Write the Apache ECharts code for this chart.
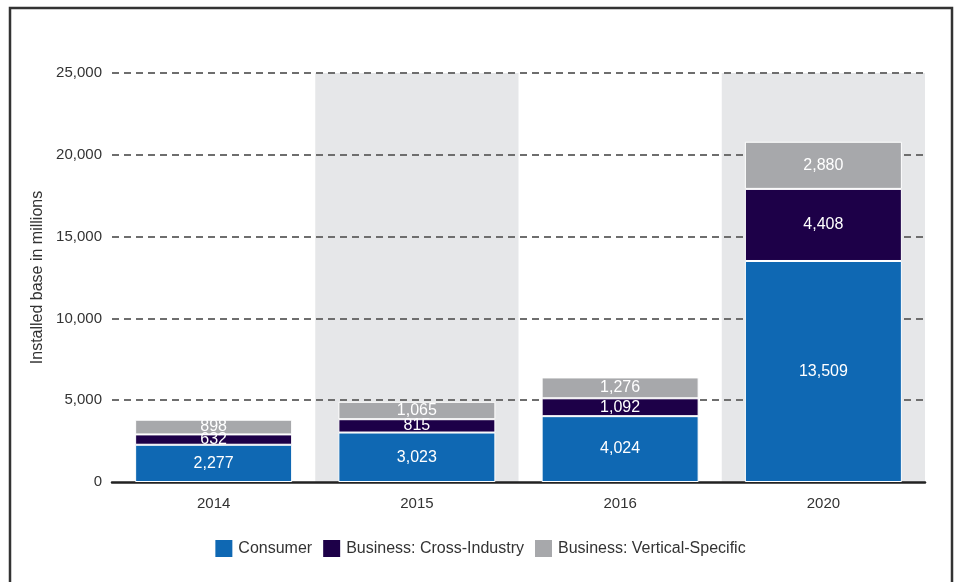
<!DOCTYPE html>
<html>
<head>
<meta charset="utf-8">
<script src="https://cdn.jsdelivr.net/npm/echarts@6/dist/echarts.min.js"></script>
<style>
html,body{margin:0;padding:0;background:#fff;}
#chart{width:959px;height:582px;}
</style>
</head>
<body>
<div id="chart"></div>
<script>
const categories = ['2014', '2015', '2016', '2020'];
const consumer = [2277, 3023, 4024, 13509];
const crossIndustry = [632, 815, 1092, 4408];
const verticalSpecific = [898, 1065, 1276, 2880];
const seriesNames = ['Consumer', 'Business: Cross-Industry', 'Business: Vertical-Specific'];
const colors = ['#0f68b3', '#1d0048', '#a7a8ab'];

const chart = echarts.init(document.getElementById('chart'));
const font = 'Liberation Sans, Arial, Helvetica, sans-serif';

function mk(name, data, color) {
  return {
    name: name,
    type: 'bar',
    stack: 'total',
    data: data,
    barWidth: 157,
    itemStyle: { color: color, borderColor: '#ffffff', borderWidth: 1 },
    label: {
      show: true,
      position: 'inside',
      color: '#ffffff',
      fontSize: 16,
      fontFamily: font,
      formatter: p => p.value.toLocaleString('en-US')
    }
  };
}

chart.setOption({
  animation: false,
  color: colors,
  graphic: [{
    type: 'rect',
    shape: { x: 10, y: 8, width: 942, height: 620 },
    style: { fill: 'none', stroke: '#333333', lineWidth: 2.5 },
    z: 100,
    silent: true
  }],
  grid: { left: 112, right: 34, top: 73, bottom: 100, containLabel: false },
  legend: {
    top: 533,
    left: 'center',
    itemWidth: 19,
    itemHeight: 19,
    itemGap: 9,
    icon: 'rect',
    textStyle: { fontSize: 16, fontFamily: font, color: '#333333' },
    data: seriesNames
  },
  xAxis: {
    type: 'category',
    data: categories,
    axisTick: { show: false },
    axisLine: { show: true, lineStyle: { color: '#222222', width: 2.5 } },
    axisLabel: { fontSize: 15, fontFamily: font, color: '#333333', margin: 14 },
    splitArea: { show: true, areaStyle: { color: ['rgba(0,0,0,0)', '#e6e7e9'] } },
    z: 0
  },
  yAxis: {
    type: 'value',
    min: 0,
    max: 25000,
    interval: 5000,
    name: 'Installed base in millions',
    nameLocation: 'middle',
    nameRotate: 90,
    nameGap: 62,
    nameTextStyle: { fontSize: 16, fontFamily: font, color: '#333333' },
    axisLine: { show: false },
    axisTick: { show: false },
    axisLabel: {
      fontSize: 15, fontFamily: font, color: '#333333', margin: 10,
      formatter: v => v.toLocaleString('en-US')
    },
    splitLine: { show: true, showMinLine: false, lineStyle: { color: '#6e6e6e', width: 2, type: [7, 5] } },
    z: 1
  },
  series: [
    mk(seriesNames[0], consumer, colors[0]),
    mk(seriesNames[1], crossIndustry, colors[1]),
    mk(seriesNames[2], verticalSpecific, colors[2])
  ]
});
</script>
</body>
</html>
